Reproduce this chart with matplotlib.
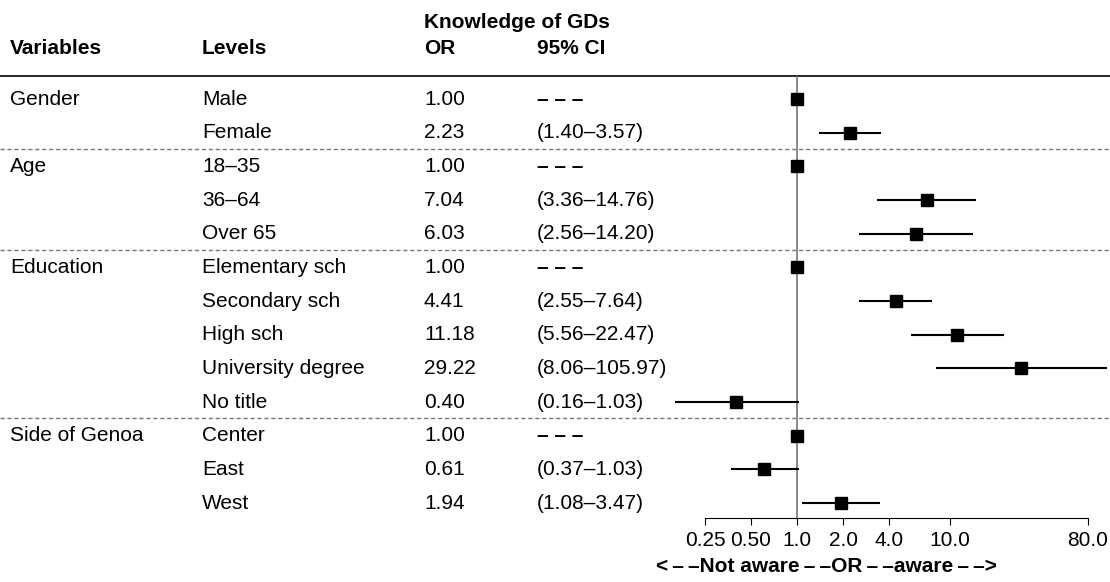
import numpy as np
import matplotlib
matplotlib.use('Agg')
import matplotlib.pyplot as plt

plt.rcParams['font.family'] = ['Liberation Sans', 'DejaVu Sans']
plt.rcParams['font.size'] = 15

# Данные
variables = ['Gender', '', 'Age', '', '', 'Education', '', '', '', '',
             'Side of Genoa', '', '']
levels = ['Male', 'Female', '18–35', '36–64', 'Over 65', 'Elementary sch',
          'Secondary sch', 'High sch', 'University degree', 'No title',
          'Center', 'East', 'West']
odds = [1.00, 2.23, 1.00, 7.04, 6.03, 1.00, 4.41, 11.18, 29.22, 0.40,
        1.00, 0.61, 1.94]
ci_low = [np.nan, 1.40, np.nan, 3.36, 2.56, np.nan, 2.55, 5.56, 8.06, 0.16,
          np.nan, 0.37, 1.08]
ci_high = [np.nan, 3.57, np.nan, 14.76, 14.20, np.nan, 7.64, 22.47, 105.97,
           1.03, np.nan, 1.03, 3.47]
group_breaks = [1.5, 4.5, 9.5]
tick_vals = [0.25, 0.5, 1.0, 2.0, 4.0, 10.0, 80.0]
tick_labels = ['0.25', '0.50', '1.0', '2.0', '4.0', '10.0', '80.0']

W, H = 1110, 582
row0, step = 99, 33.67
ylim = (-row0 / step, (H - row0) / step)   # строки в единицах индекса
y_axis = (518 - row0) / step
y_top = (76 - row0) / step

fig = plt.figure(figsize=(W / 100, H / 100), dpi=100)

# Таблица слева
tab = fig.add_axes([0, 0, 1, 1])
tab.set_xlim(0, W)
tab.set_ylim(ylim[1], ylim[0])
tab.axis('off')

col_var, col_lev, col_or, col_ci = 10, 202, 424, 537
hdr = (49 - row0) / step
tab.text(col_or, (22 - row0) / step, 'Knowledge of GDs', fontweight='bold',
         va='center', ha='left')
for x, s in [(col_var, 'Variables'), (col_lev, 'Levels'), (col_or, 'OR'),
             (col_ci, '95% CI')]:
    tab.text(x, hdr, s, fontweight='bold', va='center', ha='left')

for i in range(len(levels)):
    tab.text(col_var, i, variables[i], va='center')
    tab.text(col_lev, i, levels[i], va='center')
    tab.text(col_or, i, f'{odds[i]:.2f}', va='center')
    if np.isnan(ci_low[i]):
        tab.text(col_ci, i, '– – –', va='center', fontweight='bold')
    else:
        tab.text(col_ci, i, f'({ci_low[i]:.2f}–{ci_high[i]:.2f})', va='center')

tab.plot([0, W], [y_top, y_top], color='black', lw=1.2)
for b in group_breaks:
    tab.plot([0, W], [b - 0.02, b - 0.02], color='#777777', lw=1,
             ls=(0, (3, 2)))

# Форест-плот
left_px, right_px = 640, 1110
forest = fig.add_axes([left_px / W, 0, (right_px - left_px) / W, 1])
forest.patch.set_alpha(0)
forest.set_xscale('log')
b = 66.4
forest.set_xlim(np.exp((left_px - 797) / b), np.exp((right_px - 797) / b))
forest.set_ylim(ylim[1], ylim[0])

forest.vlines(1, y_top, y_axis, color='#777777', lw=1.2)
rows = np.arange(len(levels))
forest.hlines(rows, ci_low, ci_high, color='black', lw=1.5)
forest.plot(odds, rows, 's', color='black', markersize=8)

for side in ['top', 'left', 'right']:
    forest.spines[side].set_visible(False)
forest.spines['bottom'].set_position(('data', y_axis))
forest.spines['bottom'].set_bounds(0.25, 80)
forest.set_yticks([])
forest.set_xticks(tick_vals)
forest.set_xticklabels(tick_labels)
forest.xaxis.set_minor_locator(matplotlib.ticker.NullLocator())
forest.tick_params(axis='x', direction='out', length=5, pad=4, labelsize=15)

ts = '\u2009'
xlab = f'<{ts}–{ts}–Not aware{ts}–{ts}–OR{ts}–{ts}–aware{ts}–{ts}–>'
tab.text(826, (566 - row0) / step, xlab,
         fontweight='bold', ha='center', va='center')

plt.savefig('out.png', dpi=100)
